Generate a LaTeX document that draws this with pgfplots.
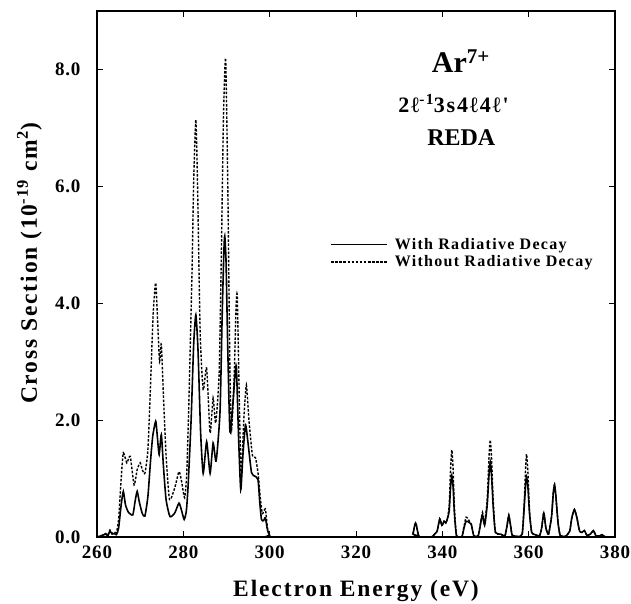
\documentclass[border=0pt]{standalone}
\usepackage{fontspec}
\setmainfont{Liberation Serif}
\newfontfamily\spfont[LetterSpace=8]{Liberation Serif}
\newfontfamily\tkfont[LetterSpace=4]{Liberation Serif}
\usepackage{pgfplots}
\pgfplotsset{compat=1.18}
\usepackage{pgfplotstable}

\pgfplotstableread{
x y
260 0.0
261 0.02
262 0.05
262.5 0.02
263 0.1
263.5 0.05
264 0.06
264.5 0.04
265 0.15
265.6 0.55
266.1 0.78
266.6 0.55
267.3 0.42
268.3 0.38
268.8 0.6
269.3 0.78
269.8 0.6
270.5 0.4
271.1 0.36
271.8 0.7
272.4 1.3
272.9 1.72
273.6 1.98
274.0 1.7
274.4 1.41
274.9 1.75
275.4 1.2
276.0 0.64
276.9 0.35
278.0 0.41
279.0 0.58
279.6 0.45
280.2 0.30
280.7 0.45
281.1 0.87
281.8 2.0
282.4 3.3
282.9 3.80
283.4 3.2
284.0 1.8
284.6 1.09
285.4 1.63
286.2 1.09
286.9 1.61
287.6 1.30
288.5 2.15
289.0 3.8
289.4 4.9
289.6 5.15
289.9 4.7
290.3 3.2
290.8 1.8
291.5 2.3
292.0 2.8
292.3 2.90
292.8 1.7
293.3 0.81
293.8 1.4
294.4 1.92
295.0 1.6
295.8 1.1
296.6 1.04
297.3 0.98
297.7 0.6
298.1 0.30
298.6 0.28
299.0 0.33
299.5 0.12
300.0 0.03
301 0.0
333 0.0
333.2 0.05
333.6 0.2
333.8 0.24
334.0 0.2
334.4 0.05
334.8 0.0
337.5 0.0
338.2 0.05
338.8 0.1
339.4 0.31
339.9 0.2
340.4 0.27
340.8 0.24
341.2 0.32
341.6 0.45
341.9 0.85
342.2 1.05
342.5 0.85
342.8 0.4
343.3 0.02
344.5 0.0
345.0 0.15
345.5 0.27
346.2 0.25
346.7 0.22
347.3 0.02
348.3 0.02
348.8 0.2
349.3 0.38
349.8 0.2
350.4 0.55
350.8 1.05
351.1 1.28
351.4 1.05
351.8 0.5
352.3 0.08
353.5 0.05
354.5 0.02
355.0 0.2
355.4 0.36
355.8 0.2
356.2 0.03
357.5 0.01
358.5 0.05
359.0 0.55
359.3 0.9
359.5 1.03
359.8 0.88
360.2 0.4
360.7 0.08
361.5 0.04
362.5 0.02
363.0 0.15
363.5 0.41
364.0 0.15
364.6 0.05
365.3 0.35
365.7 0.75
366.0 0.89
366.3 0.7
366.8 0.25
367.3 0.03
368.5 0.01
369.5 0.1
370.0 0.33
370.6 0.47
371.2 0.32
371.8 0.1
372.4 0.08
372.9 0.11
373.5 0.03
374.3 0.05
375.0 0.11
375.6 0.02
376.5 0.02
377.0 0.04
377.5 0.01
378 0.0
}\withdecay

\pgfplotstableread{
x y
260 0.0
261 0.02
262 0.06
262.5 0.03
263 0.12
263.5 0.06
264 0.08
264.5 0.08
265 0.3
265.6 1.0
266.1 1.44
266.9 1.27
267.7 1.38
268.6 0.89
269.3 1.15
270.0 1.27
270.5 1.15
271.1 1.09
271.8 1.5
272.4 2.6
273.0 3.8
273.6 4.35
274.1 3.6
274.5 3.0
274.9 3.3
275.4 2.4
276.0 1.4
276.8 0.64
278.0 0.84
279.0 1.12
279.6 0.95
280.3 0.67
280.8 1.1
281.3 2.35
282.0 4.5
282.4 6.1
282.9 7.14
283.3 6.0
283.9 3.5
284.6 2.52
285.4 2.89
286.2 1.78
286.9 2.38
287.5 1.95
288.3 2.8
288.8 4.8
289.3 7.2
289.8 8.19
290.3 6.0
290.8 2.8
291.2 1.85
291.8 2.8
292.2 3.9
292.5 4.11
293.0 2.2
293.4 1.04
294.0 2.0
294.6 2.60
295.2 2.0
296.0 1.4
296.7 1.36
297.3 1.1
297.8 0.7
298.3 0.4
299.0 0.48
299.5 0.15
300.0 0.04
301 0.0
333 0.0
333.2 0.05
333.6 0.2
333.8 0.24
334.0 0.2
334.4 0.05
334.8 0.0
337.5 0.0
338.2 0.05
338.8 0.1
339.4 0.31
339.9 0.2
340.4 0.27
340.8 0.24
341.2 0.32
341.6 0.55
341.9 1.15
342.2 1.49
342.5 1.15
342.8 0.5
343.3 0.02
344.5 0.0
345.0 0.17
345.5 0.34
346.2 0.28
346.7 0.22
347.3 0.02
348.3 0.02
348.8 0.22
349.3 0.42
349.8 0.25
350.4 0.65
350.8 1.35
351.1 1.66
351.4 1.35
351.8 0.6
352.3 0.08
353.5 0.05
354.5 0.02
355.0 0.2
355.4 0.38
355.8 0.2
356.2 0.03
357.5 0.01
358.5 0.05
359.0 0.65
359.3 1.2
359.5 1.42
359.8 1.15
360.2 0.45
360.7 0.08
361.5 0.04
362.5 0.02
363.0 0.15
363.5 0.42
364.0 0.15
364.6 0.05
365.3 0.35
365.7 0.76
366.0 0.90
366.3 0.7
366.8 0.25
367.3 0.03
368.5 0.01
369.5 0.1
370.0 0.33
370.6 0.47
371.2 0.32
371.8 0.1
372.4 0.08
372.9 0.11
373.5 0.03
374.3 0.05
375.0 0.11
375.6 0.02
376.5 0.02
377.0 0.04
377.5 0.01
378 0.0
}\nodecay

\begin{document}
\begin{tikzpicture}
\useasboundingbox (-97pt,-66pt) rectangle (534pt,537pt);
\begin{axis}[
  at={(0pt,0pt)}, anchor=south west,
  scale only axis, width=518pt, height=526pt,
  xmin=260, xmax=380, ymin=0, ymax=9,
  xtick={260,280,300,320,340,360,380},
  xticklabels={260,280,300,320,340,360,380},
  ytick={0,2,4,6,8},
  yticklabels={0.0,2.0,4.0,6.0,8.0},
  tick align=inside,
  major tick length=6pt,
  axis line style={line width=1.3pt},
  every tick/.style={black, line width=1pt},
  ticklabel style={font=\fontsize{19}{22}\tkfont\bfseries},
  xticklabel style={yshift=-5pt},
  yticklabel style={xshift=-13pt},
  xlabel={Electron Energy (eV)},
  ylabel={Cross Section (10\textsuperscript{-19} cm\textsuperscript{2})},
  label style={font=\fontsize{23.5}{27}\spfont\bfseries},
  xlabel style={at={(axis description cs:0.5,-0.1135)}, anchor=base},
  ylabel style={at={(axis description cs:-0.116,0.52)}, anchor=base},
  legend style={draw=none, fill=none, at={(axis cs:314,5.15)}, anchor=north west,
    font=\fontsize{16}{19}\spfont\bfseries, row sep=1pt, inner sep=0pt,
    /tikz/every odd column/.append style={column sep=5pt}},
  legend cell align=left,
  legend image code/.code={\draw[#1] (0pt,0pt) -- (56pt,0pt);},
  clip=true,
]
\addplot[black, line width=1.6pt, smooth, tension=0.35] table[x=x,y=y]{\withdecay};
\addlegendentry{With Radiative Decay}
\addplot[black, line width=1.4pt, dash pattern=on 2.5pt off 1.6pt, smooth, tension=0.35] table[x=x,y=y]{\nodecay};
\addlegendentry{Without Radiative Decay}
\node[font=\fontsize{30}{34}\selectfont\bfseries] at (axis cs:344.3,8.15) {Ar\textsuperscript{7+}};
\node[font=\fontsize{22}{26}\spfont\bfseries] at (axis cs:342.6,7.42) {2ℓ\textsuperscript{-1}3s4ℓ4ℓ'};
\node[font=\fontsize{24}{28}\selectfont\bfseries] at (axis cs:344.4,6.84) {REDA};
\end{axis}
\end{tikzpicture}
\end{document}
